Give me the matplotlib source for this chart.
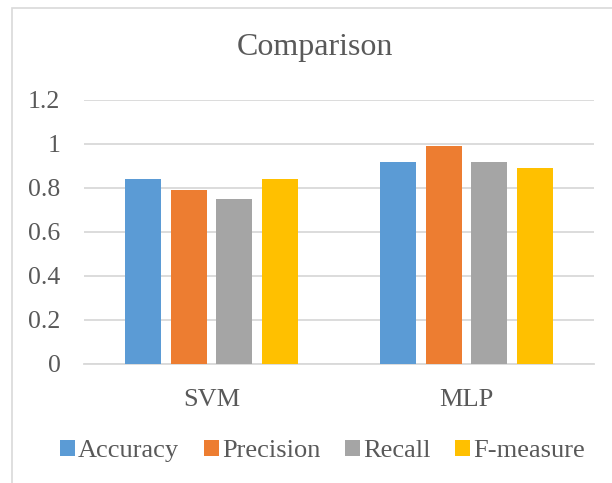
import numpy as np
import matplotlib.pyplot as plt
from matplotlib.patches import Rectangle

models = ['SVM', 'MLP']
metrics = ['Accuracy', 'Precision', 'Recall', 'F-measure']
accuracy = [0.84, 0.92]
precision = [0.79, 0.99]
recall = [0.75, 0.92]
f_measure = [0.84, 0.89]
colors = ['#5b9bd5', '#ed7d31', '#a5a5a5', '#ffc000']

plt.rcParams['font.family'] = ['Liberation Serif', 'DejaVu Serif']
text_color = '#595959'
grid_color = '#d9d9d9'

fig = plt.figure(figsize=(6.12, 4.83), dpi=100)
ax = fig.add_axes([84 / 612, 1 - 364 / 483, 510 / 612, 264 / 483])

x = np.arange(len(models))
step = 0.18
width = 0.141
series = [accuracy, precision, recall, f_measure]
for i, (vals, name) in enumerate(zip(series, metrics)):
    ax.bar(x + (i - 1.5) * step, vals, width, color=colors[i], label=name, zorder=3)

ax.set_xlim(-0.5, 1.5)
ax.set_ylim(0, 1.2)
ax.set_yticks([0, 0.2, 0.4, 0.6, 0.8, 1, 1.2])
ax.set_yticklabels(['0', '0.2', '0.4', '0.6', '0.8', '1', '1.2'])
ax.set_xticks(x)
ax.set_xticklabels(models)
ax.grid(axis='y', color=grid_color, linewidth=1.3, zorder=0)
for s in ['top', 'right', 'left']:
    ax.spines[s].set_visible(False)
ax.spines['bottom'].set_color(grid_color)
ax.spines['bottom'].set_linewidth(1.3)
ax.tick_params(axis='both', length=0, colors=text_color)
ax.tick_params(axis='y', pad=17, labelsize=18.5)
ax.tick_params(axis='x', pad=18, labelsize=19)

fig.text(0.515, 1 - 48 / 483, 'Comparison', ha='center', va='center',
         fontsize=23, color=text_color)

leg = fig.legend(loc='center', bbox_to_anchor=(0.527, 1 - 451 / 483), ncol=4,
                 frameon=False, fontsize=19, handlelength=0.55, handleheight=0.55,
                 handletextpad=0.12, columnspacing=0.95)
for t in leg.get_texts():
    t.set_color(text_color)

# outer chart border (partly cropped in the source image)
fig.add_artist(Rectangle((12 / 612, -0.1), 1.0, 1.1 - 8 / 483,
                         transform=fig.transFigure, fill=False,
                         edgecolor=grid_color, linewidth=1.2))

plt.savefig('out.png', dpi=100)
